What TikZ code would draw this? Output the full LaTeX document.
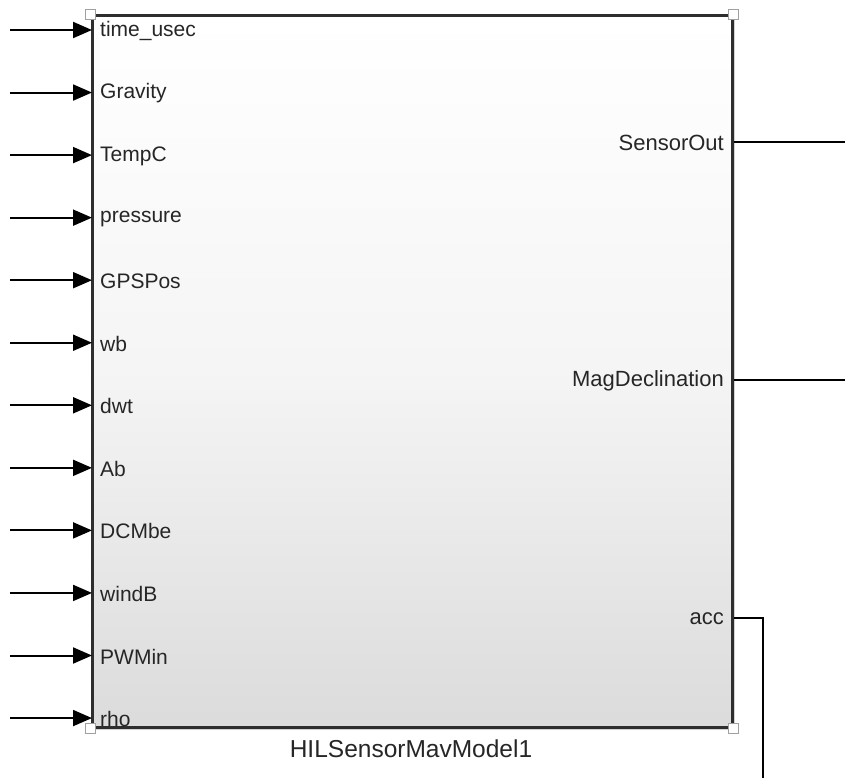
\documentclass[tikz,border=0pt]{standalone}
\usepackage{fontspec}
\setmainfont{Liberation Sans}
\usetikzlibrary{arrows.meta,shadows}
\definecolor{txtgray}{HTML}{262626}
\definecolor{edgegray}{HTML}{2E2E2E}
\definecolor{handlegray}{HTML}{A0A0A0}
\tikzset{
  sig/.style={line width=2pt,-{Triangle[length=19pt,width=16pt]}},
  sigout/.style={line width=1.5pt},
  portin/.style={anchor=west,inner sep=0pt,font=\fontsize{21}{21}\selectfont,text=txtgray},
  portout/.style={anchor=east,inner sep=0pt,font=\fontsize{22}{22}\selectfont,text=txtgray},
  handle/.style={draw=handlegray,fill=white,line width=1.2pt,minimum size=10pt,inner sep=0pt}
}
\begin{document}
\begin{tikzpicture}[x=1pt,y=-1pt]
            \useasboundingbox (0,0) rectangle (845,778);
            % block body
            \node[draw=edgegray,line width=3pt,top color=white,bottom color=black!14,
                  middle color=black!4,shading angle=0,minimum width=640pt,minimum height=711pt,
                  drop shadow={shadow xshift=3pt,shadow yshift=-3pt,opacity=.35},
                  inner sep=0pt] (blk) at (412,371.5) {};
            % selection handles
            \node[handle] (h1) at (blk.north west) {};
            \node[handle] (h2) at (blk.north east) {};
            \node[handle] (h3) at (blk.south west) {};
            \node[handle] (h4) at (blk.south east) {};
            % inputs
            \foreach \lbl [count=\i] in {time\_usec,Gravity,TempC,pressure,GPSPos,wb,dwt,Ab,DCMbe,windB,PWMin,rho}{
                \coordinate (src\i) at (10,{30+(\i-1)*62.55});
                \coordinate (in\i) at (92,{30+(\i-1)*62.55});
                \draw[sig] (src\i) -- (in\i);
                \node[portin] (lin\i) at (100,{31+(\i-1)*62.55}) {\lbl};
            }
            % outputs
            \coordinate (out1) at (734,142);
            \coordinate (dst1) at (845,142);
            \coordinate (out2) at (734,380);
            \coordinate (dst2) at (845,380);
            \coordinate (out3) at (734,618);
            \coordinate (bend3) at (763,618);
            \coordinate (dst3) at (763,778);
            \draw[sigout] (out1) -- (dst1);
            \draw[sigout] (out2) -- (dst2);
            \draw[sigout] (out3) -- (bend3) -- (dst3);
            \node[portout] (lout1) at (724,143) {SensorOut};
            \node[portout] (lout2) at (724,381) {MagDeclination};
            \node[portout] (lout3) at (724,619) {acc};
            % block name
            \node[inner sep=0pt,font=\fontsize{24.5}{24.5}\selectfont,text=txtgray] (name) at (411,749) {HILSensorMavModel1};
\end{tikzpicture}
\end{document}
